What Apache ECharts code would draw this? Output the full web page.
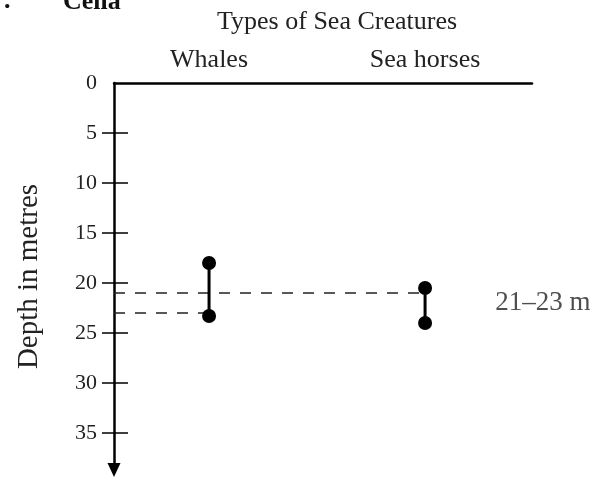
<!DOCTYPE html>
<html>
<head>
<meta charset="utf-8">
<script src="https://cdn.jsdelivr.net/npm/echarts@6/dist/echarts.min.js"></script>
<style>html,body{margin:0;padding:0;background:#fff}#c{width:605px;height:477px}</style>
</head>
<body>
<div id="c"></div>
<script>
var categories = ['Whales', 'Sea horses'];
var whaleRange = [18, 23.3];
var seahorseRange = [20.5, 24];
var overlapRange = [21, 23];
var overlapLabel = '21\u201323 m';
var depthTicks = [5, 10, 15, 20, 25, 30, 35];
var depthLabels = [0, 5, 10, 15, 20, 25, 30, 35];

var FONT = 'Liberation Serif';
var xMin = -0.44, xMax = 1.495;
var chart = echarts.init(document.getElementById('c'));
function rangeSeries(idx, r) {
  return {
    type: 'line', xAxisIndex: 0, yAxisIndex: 0,
    data: [[idx, r[0]], [idx, r[1]]],
    symbol: 'circle', symbolSize: 14, showSymbol: true,
    itemStyle: { color: '#000' },
    lineStyle: { color: '#000', width: 3 },
    z: 5, animation: false, silent: true
  };
}
chart.setOption({
  animation: false,
  title: [
    { text: 'Types of Sea Creatures', left: 217, top: 9, padding: 0,
      textStyle: { fontFamily: FONT, fontSize: 26, fontWeight: 'normal', color: '#222' } },
    { text: 'Cella', left: 63, top: -11, padding: 0,
      textStyle: { fontFamily: FONT, fontSize: 26, fontWeight: 'bold', color: '#111' } },
    { text: '.', left: 4, top: -12, padding: 0,
      textStyle: { fontFamily: FONT, fontSize: 26, fontWeight: 'bold', color: '#111' } }
  ],
  grid: { left: 114, right: 73, top: 83, bottom: 7 },
  xAxis: {
    type: 'value', position: 'top', min: xMin, max: xMax,
    axisLine: { show: true, onZero: false, lineStyle: { color: '#000', width: 2.5 } },
    axisTick: { show: false },
    splitLine: { show: false },
    axisLabel: {
      customValues: [0, 1], margin: 10,
      formatter: function (v) { return categories[Math.round(v)] || ''; },
      fontFamily: FONT, fontSize: 26, color: '#222'
    }
  },
  yAxis: [{
    type: 'value', inverse: true, min: 0, max: 38.7, position: 'left',
    name: 'Depth in metres', nameLocation: 'middle', nameGap: 70, nameRotate: 90,
    nameTextStyle: { fontFamily: FONT, fontSize: 29, color: '#222' },
    axisLine: { show: true, onZero: false, symbol: ['triangle', 'none'], symbolSize: [13, 14],
      lineStyle: { color: '#000', width: 2.5 } },
    axisTick: { show: true, customValues: depthTicks, length: 12, inside: false,
      lineStyle: { color: '#000', width: 1.5 } },
    axisLabel: { customValues: depthLabels, margin: 17,
      fontFamily: FONT, fontSize: 22, color: '#222' },
    splitLine: { show: false }
  }, {
    type: 'value', inverse: true, min: 0, max: 38.7, position: 'left',
    axisLine: { show: false, onZero: false },
    axisTick: { show: true, customValues: depthTicks, length: 14, inside: true,
      lineStyle: { color: '#000', width: 1.5 } },
    axisLabel: { show: false },
    splitLine: { show: false }
  }],
  series: [
    rangeSeries(0, whaleRange),
    rangeSeries(1, seahorseRange),
    { type: 'line', data: [[xMin, overlapRange[0]], [1, overlapRange[0]]],
      showSymbol: false, symbol: 'none',
      lineStyle: { color: '#222', width: 1.5, type: [11, 10] }, z: 3, silent: true },
    { type: 'line', data: [[xMin, overlapRange[1]], [0, overlapRange[1]]],
      showSymbol: false, symbol: 'none',
      lineStyle: { color: '#222', width: 1.5, type: [11, 10] }, z: 3, silent: true },
    { type: 'scatter', data: [[1.325, (overlapRange[0] + overlapRange[1]) / 2]],
      symbolSize: 0, silent: true,
      label: { show: true, position: 'inside', align: 'left', formatter: overlapLabel,
        fontFamily: FONT, fontSize: 27, color: '#222' } }
  ]
});
</script>
</body>
</html>
